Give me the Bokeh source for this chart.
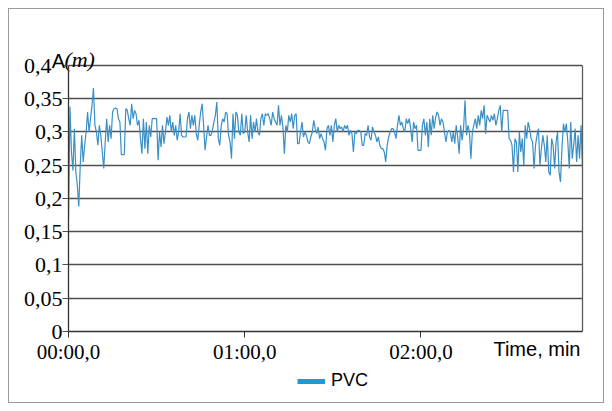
import numpy as np
from bokeh.plotting import figure
from bokeh.models import (Range1d, FixedTicker, Legend, LegendItem, LinearAxis,
                          ColumnDataSource)
from bokeh.layouts import column
from bokeh.embed import file_html
from bokeh.resources import INLINE

# ---- data (amplitude A in m, sampled every 0.5 s) ----
SAMPLE_STEP = 0.5
amp_part1 = [0.17, 0.338, 0.27, 0.242, 0.305, 0.24, 0.22, 0.188, 0.25, 0.295,
             0.255, 0.28, 0.30, 0.33, 0.30, 0.32, 0.34, 0.366, 0.31, 0.30,
             0.28, 0.31, 0.295, 0.27, 0.245, 0.285, 0.32, 0.285, 0.31, 0.29,
             0.33, 0.335, 0.336, 0.335, 0.32, 0.315, 0.266, 0.266, 0.266, 0.335,
             0.333, 0.32, 0.31]
amp_part2 = [0.3425, 0.32, 0.3325, 0.3275, 0.31, 0.3175, 0.29, 0.2675, 0.32, 0.275,
             0.315, 0.2675, 0.31, 0.2925, 0.32, 0.32, 0.32, 0.32, 0.2575, 0.30,
             0.2775, 0.31, 0.2825, 0.30, 0.3225, 0.31, 0.325, 0.30, 0.315, 0.295,
             0.31, 0.2875, 0.30, 0.3275, 0.295, 0.2925, 0.2925, 0.2925, 0.32, 0.33,
             0.305, 0.325, 0.31]
amp_part3 = [0.325, 0.2975, 0.2875, 0.31, 0.33, 0.3425, 0.31, 0.2725, 0.2925, 0.31,
             0.295, 0.295, 0.3025, 0.315, 0.325, 0.345, 0.29, 0.28, 0.31, 0.32,
             0.315, 0.33, 0.3275, 0.295, 0.285, 0.26, 0.3275, 0.29, 0.33, 0.325,
             0.30, 0.295, 0.3275, 0.2975, 0.30, 0.325, 0.30, 0.285, 0.325, 0.29,
             0.315, 0.30, 0.32]
amp_part4 = [0.30, 0.295, 0.32, 0.3275, 0.31, 0.3275, 0.325, 0.3275, 0.32, 0.31,
             0.33, 0.32, 0.315, 0.31, 0.34, 0.31, 0.325, 0.3075, 0.2675, 0.31,
             0.30, 0.325, 0.315, 0.3275, 0.305, 0.325, 0.3275, 0.2825, 0.2825, 0.30,
             0.315, 0.2925, 0.30, 0.295, 0.285, 0.2825, 0.2925, 0.30, 0.3175, 0.305,
             0.2975, 0.3075, 0.29, 0.2975]
amp_part5 = [0.29, 0.285, 0.2725, 0.305, 0.31, 0.295, 0.31, 0.285, 0.31, 0.32,
             0.30, 0.31, 0.305, 0.3075, 0.30, 0.31, 0.305, 0.31, 0.295, 0.3025,
             0.2975, 0.27, 0.30, 0.2975, 0.3025, 0.3025, 0.30, 0.28, 0.28, 0.2975,
             0.295, 0.31, 0.2925, 0.2875, 0.3075, 0.30, 0.295, 0.285, 0.2925, 0.28,
             0.275, 0.275, 0.27, 0.255]
amp_part6 = [0.28, 0.2925, 0.30, 0.305, 0.305, 0.30, 0.29, 0.31, 0.325, 0.31,
             0.315, 0.305, 0.30, 0.32, 0.3125, 0.32, 0.305, 0.285, 0.315, 0.305,
             0.31, 0.2725, 0.2725, 0.2725, 0.31, 0.32, 0.295, 0.315, 0.2775, 0.32,
             0.295, 0.325, 0.305, 0.3225, 0.33, 0.325, 0.31, 0.32, 0.315, 0.30,
             0.285, 0.30, 0.3025, 0.30]
amp_part7 = [0.285, 0.30, 0.2825, 0.31, 0.2925, 0.2675, 0.31, 0.2875, 0.305, 0.3475,
             0.295, 0.31, 0.30, 0.26, 0.30, 0.31, 0.32, 0.305, 0.325, 0.31,
             0.3325, 0.32, 0.34, 0.2975, 0.325, 0.32, 0.315, 0.325, 0.3175, 0.3275,
             0.31, 0.32, 0.3325, 0.34, 0.30, 0.3325, 0.3325, 0.3325, 0.3325, 0.29,
             0.2875, 0.28, 0.24]
amp_part8 = [0.29, 0.285, 0.24, 0.30, 0.27, 0.29, 0.25, 0.31, 0.29, 0.315,
             0.305, 0.29, 0.285, 0.245, 0.28, 0.295, 0.305, 0.25, 0.275, 0.295,
             0.28, 0.255, 0.295, 0.24, 0.235, 0.29, 0.28, 0.245, 0.285, 0.30,
             0.24, 0.225, 0.275, 0.3125, 0.30, 0.3125, 0.285, 0.245, 0.315, 0.26,
             0.28, 0.305, 0.255, 0.295, 0.26, 0.31, 0.245]

amplitude = (amp_part1 + amp_part2 + amp_part3 + amp_part4 +
             amp_part5 + amp_part6 + amp_part7 + amp_part8)
time_s = [i * SAMPLE_STEP for i in range(len(amplitude))]

x_ticks = [0, 60, 120]
x_tick_labels = ["00:00,0", "01:00,0", "02:00,0"]
y_ticks = [0, 0.05, 0.1, 0.15, 0.2, 0.25, 0.3, 0.35, 0.4]
y_tick_labels = ["0", "0,05", "0,1", "0,15", "0,2", "0,25", "0,3", "0,35", "0,4"]
series_name = "PVC"
x_title = "Time, min"
y_title_main = "A"
y_title_unit = "(m)"

# ---- layout / style constants ----
Y_MAX = 0.4
Y_TOP_PAD = 0.0075        # small head-room above the 0,4 line
X_TITLE_AT = 159.5        # where "Time, min" is centred along the time axis (s)
UNIT_AT = 3.8             # where "(m)" is centred along the time axis (s)
TOP_LABEL_PAD = "\u00a0\u00a0"   # the top tick label sits left, making room for "A"
LINE_COLOR = "#3A8FC7"
LEGEND_COLOR = "#1F9AD6"
GRID_COLOR = "#4f4f4f"
FRAME_COLOR = "#5a5a5a"

y_label_map = dict(zip(y_ticks, y_tick_labels))
y_label_map[Y_MAX] = y_label_map[Y_MAX] + TOP_LABEL_PAD

MAIN_H = 366
p = figure(width=612, height=MAIN_H, output_backend="svg", toolbar_location=None,
           x_range=Range1d(0, time_s[-1]), y_range=Range1d(0, Y_MAX + Y_TOP_PAD),
           min_border_left=68, min_border_right=30,
           min_border_top=60, min_border_bottom=MAIN_H - 331)
p.background_fill_color = "white"
p.border_fill_alpha = 0
p.outline_line_color = None

p.xgrid.visible = False
p.ygrid.grid_line_color = GRID_COLOR
p.ygrid.grid_line_width = 1.3
p.ygrid.ticker = FixedTicker(ticks=y_ticks)

# y axis
p.yaxis.ticker = FixedTicker(ticks=y_ticks)
p.yaxis.bounds = (0, Y_MAX)
p.yaxis.major_label_overrides = y_label_map
p.yaxis.major_label_text_font = "Liberation Serif"
p.yaxis.major_label_text_font_size = "22px"
p.yaxis.major_label_text_color = "black"
p.yaxis.major_tick_out = 6
p.yaxis.major_tick_in = 0
p.yaxis.minor_tick_out = 0
p.yaxis.minor_tick_in = 0
p.yaxis.major_label_standoff = 0
p.yaxis.axis_line_color = "#333333"
p.yaxis.axis_line_width = 1.3
p.yaxis.major_tick_line_color = GRID_COLOR
p.yaxis.axis_label = y_title_main
p.yaxis.axis_label_orientation = "horizontal"
p.yaxis.axis_label_align = "end"
p.yaxis.axis_label_standoff = -44
p.yaxis.axis_label_text_font = "Liberation Sans"
p.yaxis.axis_label_text_font_style = "normal"
p.yaxis.axis_label_text_font_size = "20px"
p.yaxis.axis_label_text_color = "black"

# x axis
p.xaxis.ticker = FixedTicker(ticks=x_ticks)
p.xaxis.major_label_overrides = dict(zip(x_ticks, x_tick_labels))
p.xaxis.major_label_text_font = "Liberation Serif"
p.xaxis.major_label_text_font_size = "21px"
p.xaxis.major_label_text_color = "black"
p.xaxis.major_tick_out = 6
p.xaxis.major_tick_in = 0
p.xaxis.minor_tick_out = 0
p.xaxis.minor_tick_in = 0
p.xaxis.major_label_standoff = 2
p.xaxis.axis_line_color = "#333333"
p.xaxis.axis_line_width = 1.3
p.xaxis.major_tick_line_color = "#333333"

def text_axis(pos, text, font, style, size, standoff):
    return LinearAxis(ticker=FixedTicker(ticks=[pos]),
                      major_label_overrides={pos: text},
                      major_label_text_font=font,
                      major_label_text_font_style=style,
                      major_label_text_font_size=size,
                      major_label_text_color="black",
                      major_label_standoff=standoff,
                      axis_line_color=None, major_tick_line_color=None,
                      minor_tick_line_color=None, major_tick_out=0,
                      major_tick_in=0, minor_tick_out=0, minor_tick_in=0)

# "Time, min" on the row of the time tick labels, at the right
p.add_layout(text_axis(X_TITLE_AT, x_title, "Liberation Sans", "normal", "20px", -29),
             "below")
# unit "(m)" next to "A" at the top-left
p.add_layout(text_axis(UNIT_AT, y_title_unit, "Liberation Serif", "italic", "22px", -11),
             "above")
# right border of the plot area
p.add_layout(LinearAxis(ticker=FixedTicker(ticks=[]), bounds=(0, Y_MAX),
                        axis_line_color=FRAME_COLOR, axis_line_width=1.3,
                        major_tick_out=0, major_tick_in=0, minor_tick_out=0,
                        minor_tick_in=0, major_label_standoff=0), "right")

p.line(time_s, amplitude, line_color=LINE_COLOR, line_width=1.2)

# ---- legend strip below the chart (its frame is aligned with the chart's) ----
LEG_H = 411 - MAIN_H
pl = figure(width=612, height=LEG_H, output_backend="svg", toolbar_location=None,
            x_axis_type=None, y_axis_type=None, min_border=0,
            x_range=Range1d(0, 1), y_range=Range1d(0, 1))
pl.outline_line_color = None
pl.background_fill_alpha = 0
pl.border_fill_alpha = 0
leg_src = ColumnDataSource(dict(x=[np.nan], y=[np.nan]))
leg_r = pl.line("x", "y", source=leg_src, line_color=LEGEND_COLOR, line_width=5)
legend = Legend(items=[LegendItem(label=series_name, renderers=[leg_r])],
                location=(229, 20), orientation="horizontal",
                padding=0, margin=0, border_line_color=None,
                background_fill_alpha=0, glyph_width=28, glyph_height=20,
                label_standoff=6, label_text_font="Liberation Sans",
                label_text_font_size="18px", label_text_color="black")
pl.add_layout(legend)

layout = column(p, pl, spacing=0)
layout.styles = {"background-color": "white",
                 "box-shadow": "inset 0 0 0 8px white, inset 0 0 0 9px #9a9a9a"}

open("out.html", "w").write(file_html(layout, INLINE))
